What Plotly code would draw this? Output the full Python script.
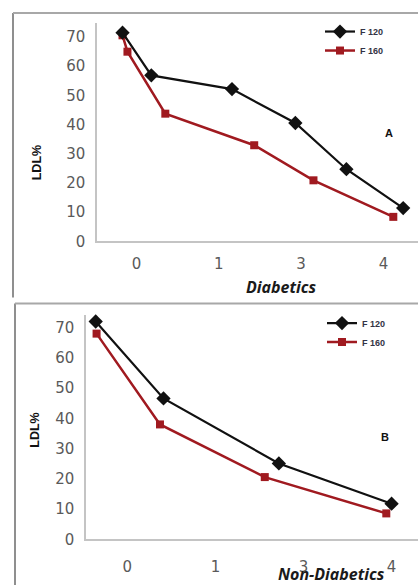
import plotly.graph_objects as go

W, H = 418, 585
H_EFF = 575  # vertical extent the page is photographed at

tick_vals = [0, 1, 2, 3]
tick_text = ["0", "1", "3", "4"]
y_ticks = [0, 10, 20, 30, 40, 50, 60, 70]

series_names = ["F 120", "F 160"]

diab_f120_x = [-0.17, 0.18, 1.16, 1.93, 2.55, 3.24]
diab_f120_y = [71.4, 56.8, 52.1, 40.5, 24.7, 11.4]
diab_f160_x = [-0.17, -0.11, 0.35, 1.43, 2.15, 3.12]
diab_f160_y = [70.5, 64.9, 43.7, 32.9, 20.9, 8.4]

nond_f120_x = [-0.36, 0.41, 1.72, 3.00]
nond_f120_y = [72.0, 46.6, 25.1, 11.8]
nond_f160_x = [-0.35, 0.37, 1.56, 2.94]
nond_f160_y = [68.0, 38.0, 20.6, 8.6]

BLACK = "#111111"
RED = "#a01a20"

def px_x(p):
    return p / W

def px_y(p):
    return 1 - p / H_EFF

fig = go.Figure()

def add_pair(xa, ya, leg, f120x, f120y, f160x, f160y):
    fig.add_trace(go.Scatter(
        x=f160x, y=f160y, name=series_names[1], mode="lines+markers",
        line=dict(color=RED, width=2.5),
        marker=dict(symbol="square", size=8, color=RED),
        xaxis=xa, yaxis=ya, legend=leg, cliponaxis=False))
    fig.add_trace(go.Scatter(
        x=f120x, y=f120y, name=series_names[0], mode="lines+markers",
        line=dict(color=BLACK, width=2.2),
        marker=dict(symbol="diamond", size=11, color=BLACK),
        xaxis=xa, yaxis=ya, legend=leg, cliponaxis=False))

add_pair("x", "y", "legend", diab_f120_x, diab_f120_y, diab_f160_x, diab_f160_y)
add_pair("x2", "y2", "legend2", nond_f120_x, nond_f120_y, nond_f160_x, nond_f160_y)

tick_font = dict(family="DejaVu Sans", size=15, color="#5a5a5a")
axis_common = dict(showgrid=False, zeroline=False, showline=True,
                   linecolor="#c4c4c4", linewidth=1.5, ticks="",
                   tickfont=tick_font, fixedrange=True)

legend_common = dict(
    font=dict(family="Liberation Sans, Arial", size=9, color="#333344", weight="bold"),
    bgcolor="rgba(0,0,0,0)", itemwidth=30, tracegroupgap=0,
    traceorder="reversed", xanchor="left", yanchor="top",
    itemclick=False, itemdoubleclick=False)

fig.update_layout(
    width=W, height=H,
    margin=dict(l=0, r=0, t=0, b=0),
    paper_bgcolor="white", plot_bgcolor="white",
    showlegend=True,
    xaxis=dict(domain=[px_x(97), 1], range=[-0.48, 3.42], anchor="y",
               tickvals=tick_vals, ticktext=tick_text, ticklabelstandoff=8, **axis_common),
    yaxis=dict(domain=[px_y(241), px_y(23)], range=[0, 74.7], anchor="x",
               tickvals=y_ticks, ticklabelstandoff=7, **axis_common),
    xaxis2=dict(domain=[px_x(86), 1], range=[-0.47, 3.30], anchor="y2",
                tickvals=tick_vals, ticktext=tick_text, ticklabelstandoff=13, **axis_common),
    yaxis2=dict(domain=[px_y(538.5), px_y(314)], range=[0, 74.3], anchor="x2",
                tickvals=y_ticks, ticklabelstandoff=7, **axis_common),
    legend=dict(x=px_x(320), y=px_y(17), **legend_common),
    legend2=dict(x=px_x(322), y=px_y(308), **legend_common),
)

border = dict(color="#8f8f8f", width=2)
shapes = [
    dict(type="line", xref="paper", yref="paper", x0=px_x(13), x1=px_x(13), y0=px_y(13), y1=px_y(297), line=border),
    dict(type="line", xref="paper", yref="paper", x0=px_x(13), x1=1.01, y0=px_y(13), y1=px_y(13), line=dict(color="#a8a8a8", width=2)),
    dict(type="line", xref="paper", yref="paper", x0=px_x(15), x1=px_x(15), y0=px_y(303), y1=-0.05, line=border),
    dict(type="line", xref="paper", yref="paper", x0=px_x(15), x1=1.01, y0=px_y(303), y1=px_y(303), line=dict(color="#a8a8a8", width=2)),
]
fig.update_layout(shapes=shapes)

title_font = dict(family="Open Sans, DejaVu Sans", size=16, color="#1a1a1a", weight="bold", style="italic")
lab_font = dict(family="Liberation Sans, Arial", size=12.5, color="#111111", weight="bold")

annotations = [
    dict(text="Diabetics", x=px_x(281), y=px_y(287), font=title_font),
    dict(text="Non-Diabetics", x=px_x(331), y=px_y(573), font=title_font),
    dict(text="LDL%", x=px_x(37), y=px_y(163), textangle=-90, font=lab_font),
    dict(text="LDL%", x=px_x(35), y=px_y(430), textangle=-90, font=lab_font),
    dict(text="A", x=px_x(389), y=px_y(133), font=dict(lab_font, size=11)),
    dict(text="B", x=px_x(385), y=px_y(436), font=dict(lab_font, size=11)),
]
for a in annotations:
    a.update(xref="paper", yref="paper", showarrow=False, xanchor="center", yanchor="middle")
fig.update_layout(annotations=annotations)

fig.write_html("out.html", config={"displayModeBar": False},
               post_script="document.body.style.margin='0';document.body.style.padding='0';document.body.style.overflow='hidden';")
